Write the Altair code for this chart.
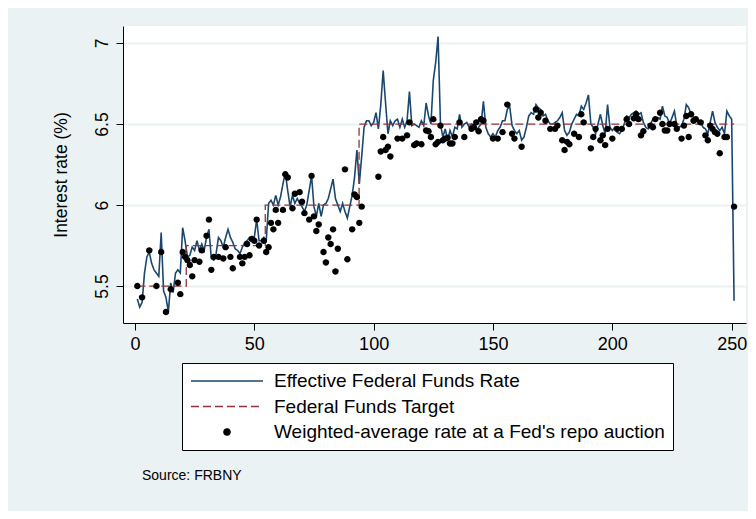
import math
import altair as alt
import pandas as pd

# ---------------- data ----------------
E = "Effective Federal Funds Rate"
T = "Federal Funds Target"
W = "Weighted-average rate at a Fed's repo auction"

eff_days = list(range(1, 252))
eff_vals = [
    5.42, 5.37, 5.40, 5.58, 5.68, 5.71, 5.64, 5.60, 5.58, 5.56,
    5.83, 5.47, 5.43, 5.34, 5.52, 5.46, 5.58, 5.60, 5.58, 5.86,
    5.78, 5.68, 5.69, 5.74, 5.72, 5.78, 5.72, 5.76, 5.72, 5.80,
    5.85, 5.67, 5.66, 5.70, 5.80, 5.78, 5.74, 5.80, 5.85, 5.80,
    5.77, 5.73, 5.72, 5.70, 5.74, 5.77, 5.78, 5.80, 5.79, 5.80,
    5.91, 5.78, 5.78, 5.80, 5.78, 6.01, 6.03, 6.00, 6.06, 6.00,
    6.05, 6.13, 6.20, 6.09, 5.99, 6.06, 6.01, 6.04, 6.01, 5.99,
    5.96, 6.00, 6.09, 6.18, 5.99, 5.93, 6.01, 5.93, 6.00, 6.01,
    6.04, 6.10, 6.16, 6.04, 6.00, 5.96, 6.01, 5.96, 5.92, 5.99,
    6.06, 6.17, 6.34, 6.13, 6.30, 6.48, 6.52, 6.52, 6.49, 6.51,
    6.57, 6.47, 6.62, 6.83, 6.63, 6.44, 6.52, 6.49, 6.52, 6.53,
    6.48, 6.53, 6.48, 6.52, 6.70, 6.49, 6.50, 6.49, 6.48, 6.52,
    6.49, 6.63, 6.55, 6.50, 6.77, 6.88, 7.04, 6.50, 6.42, 6.47,
    6.40, 6.46, 6.42, 6.48, 6.47, 6.56, 6.48, 6.50, 6.51, 6.48,
    6.50, 6.49, 6.46, 6.48, 6.50, 6.64, 6.48, 6.44, 6.42, 6.44,
    6.42, 6.46, 6.48, 6.52, 6.52, 6.59, 6.61, 6.49, 6.46, 6.44,
    6.46, 6.40, 6.42, 6.48, 6.55, 6.57, 6.56, 6.62, 6.60, 6.59,
    6.55, 6.56, 6.52, 6.50, 6.50, 6.51, 6.52, 6.54, 6.57, 6.46,
    6.43, 6.45, 6.50, 6.53, 6.56, 6.55, 6.61, 6.59, 6.63, 6.68,
    6.50, 6.48, 6.44, 6.50, 6.56, 6.49, 6.44, 6.62, 6.48, 6.46,
    6.48, 6.45, 6.44, 6.46, 6.50, 6.55, 6.54, 6.56, 6.57, 6.58,
    6.56, 6.57, 6.51, 6.48, 6.47, 6.50, 6.53, 6.52, 6.54, 6.53,
    6.61, 6.55, 6.54, 6.50, 6.54, 6.58, 6.49, 6.48, 6.49, 6.53,
    6.62, 6.60, 6.56, 6.54, 6.54, 6.50, 6.51, 6.48, 6.47, 6.44,
    6.51, 6.58, 6.51, 6.48, 6.46, 6.48, 6.44, 6.58, 6.55, 6.53,
    5.41,
]

target_days = [1, 21.5, 54.6, 93.9, 251]
target_vals = [5.50, 5.75, 6.00, 6.50, 6.50]

dot_days = [
    1, 3, 6, 9, 11, 13, 15, 18, 19, 20, 21, 22, 23, 24, 25, 27, 28, 30, 31, 32,
    33, 35, 37, 38, 40, 41, 44, 45, 46, 47, 48, 49, 50, 51, 52, 54, 55, 56, 57, 58,
    59, 60, 62, 63, 64, 66, 67, 69, 70, 71, 73, 74, 75, 76, 77, 79, 80, 81, 82, 83,
    84, 85, 88, 89, 91, 92, 93, 94, 95, 102, 103, 104, 105, 106, 107, 110, 112, 114, 115, 117,
    118, 120, 122, 123, 124, 125, 126, 127, 128, 129, 130, 131, 132, 133, 134, 136, 138, 141, 142, 143,
    144, 145, 146, 150, 152, 154, 156, 158, 159, 162, 168, 169, 170, 172, 174, 176, 177, 179, 180, 181,
    182, 184, 186, 187, 188, 191, 192, 193, 195, 196, 197, 198, 200, 202, 204, 206, 207, 209, 210, 211,
    212, 213, 216, 217, 218, 220, 221, 222, 223, 224, 226, 227, 229, 230, 231, 232, 233, 234, 235, 237,
    239, 240, 241, 242, 243, 244, 245, 247, 248, 251,
]
dot_vals = [
    5.50, 5.43, 5.72, 5.50, 5.71, 5.34, 5.48, 5.52, 5.45, 5.71, 5.68, 5.66, 5.63, 5.56, 5.66, 5.65, 5.72, 5.81, 5.91, 5.60,
    5.68, 5.68, 5.67, 5.74, 5.68, 5.61, 5.68, 5.64, 5.68, 5.76, 5.69, 5.79, 5.78, 5.91, 5.75, 5.78, 5.71, 5.74, 5.89, 5.85,
    5.97, 5.89, 5.97, 6.19, 6.17, 5.98, 6.07, 6.08, 6.02, 5.95, 5.91, 6.18, 5.93, 5.84, 5.88, 5.71, 5.645, 5.80, 5.76, 5.85,
    5.59, 5.73, 6.22, 5.665, 5.85, 6.065, 6.05, 5.89, 5.99, 6.175, 6.33, 6.42, 6.34, 6.36, 6.30, 6.41, 6.41, 6.43, 6.51, 6.37,
    6.38, 6.375, 6.46, 6.455, 6.42, 6.53, 6.375, 6.39, 6.49, 6.40, 6.41, 6.415, 6.38, 6.38, 6.42, 6.51, 6.42, 6.47, 6.48, 6.51,
    6.455, 6.53, 6.52, 6.41, 6.41, 6.45, 6.62, 6.44, 6.41, 6.36, 6.59, 6.54, 6.57, 6.52, 6.47, 6.47, 6.49, 6.40, 6.34, 6.39,
    6.375, 6.44, 6.42, 6.56, 6.51, 6.35, 6.42, 6.47, 6.40, 6.43, 6.37, 6.47, 6.41, 6.47, 6.47, 6.53, 6.50, 6.535, 6.56, 6.53,
    6.43, 6.455, 6.49, 6.48, 6.53, 6.57, 6.50, 6.46, 6.46, 6.50, 6.50, 6.47, 6.41, 6.49, 6.55, 6.42, 6.56, 6.52, 6.53, 6.51,
    6.43, 6.40, 6.49, 6.47, 6.45, 6.44, 6.32, 6.42, 6.42, 5.99,
]

x_ticks = [0, 50, 100, 150, 200, 250]
y_ticks = [5.5, 6.0, 6.5, 7.0]

# ---------------- table ----------------
df = pd.concat([
    pd.DataFrame({"day": eff_days, "rate": eff_vals, "series": E}),
    pd.DataFrame({"day": target_days, "rate": target_vals, "series": T}),
    pd.DataFrame({"day": dot_days, "rate": dot_vals, "series": W}),
], ignore_index=True)

NAVY = "#1a476f"
MAROON = "#90353b"
BG = "#eaf2f3"
FONT = "Liberation Sans"
DOMAIN = [E, T, W]

# symbol shapes (unit coordinates, scaled by sqrt(size)/2)
LINE_PATH = "M-1,0L1,0"
r = 0.085
pts = [(r * math.cos(k * math.pi / 8), r * math.sin(k * math.pi / 8)) for k in range(16)]
DOT_PATH = "M" + "L".join(f"{px:.4f},{py:.4f}" for px, py in pts) + "Z"
DOT_SIZE = (2 * 3.2 / r) ** 2  # plot dots ~6.4px wide with this path


def make_legend():
    return alt.Legend(
        orient="none", legendX=59, legendY=337, direction="vertical",
        fillColor="white", strokeColor="black", padding=8,
        labelFont=FONT, labelFontSize=19, labelColor="black", labelLimit=800,
        labelOffset=10, symbolSize=5184, symbolStrokeWidth=1.5,
        symbolOpacity=1, clipHeight=20, rowPadding=5.5,
    )


color = alt.Color(
    "series:N",
    scale=alt.Scale(domain=DOMAIN, range=[NAVY, MAROON, "#000000"]),
    title=None, legend=make_legend(),
)
dash = alt.StrokeDash(
    "series:N",
    scale=alt.Scale(domain=DOMAIN, range=[[1, 0], [8, 4], [1, 0]]),
    title=None, legend=make_legend(),
)
shape = alt.Shape(
    "series:N",
    scale=alt.Scale(domain=DOMAIN, range=[LINE_PATH, LINE_PATH, DOT_PATH]),
    title=None, legend=make_legend(),
)

x = alt.X(
    "day:Q",
    scale=alt.Scale(domain=[-5, 256], nice=False, zero=False),
    axis=alt.Axis(
        values=x_ticks, title=None, grid=False, format="d",
        domainColor="black", domainWidth=1, tickColor="black", tickSize=7, tickWidth=1,
        labelFont=FONT, labelFontSize=18, labelColor="black", labelPadding=5,
    ),
)
y = alt.Y(
    "rate:Q",
    scale=alt.Scale(domain=[5.272, 7.105], nice=False, zero=False),
    axis=alt.Axis(
        values=y_ticks, format="~g", title="Interest rate (%)",
        grid=True, gridColor=BG, gridWidth=2,
        domainColor="black", domainWidth=1, tickColor="black", tickSize=7, tickWidth=1,
        labelFont=FONT, labelFontSize=17.5, labelColor="black",
        labelAngle=270, labelAlign="center", labelBaseline="alphabetic", labelPadding=9,
        titleFont=FONT, titleFontSize=17.5, titleFontWeight="normal", titleColor="black",
        titleAngle=270, titleAlign="center", titleBaseline="alphabetic",
        titleX=-57, titleY=148.5,
    ),
)

base = alt.Chart(df).encode(x=x, y=y, color=color)

eff_line = base.transform_filter(alt.datum.series == E).mark_line(strokeWidth=1.6).encode(strokeDash=dash)
tgt_line = base.transform_filter(alt.datum.series == T).mark_line(
    strokeWidth=1.3, interpolate="step-after"
).encode(strokeDash=dash)
dots = base.transform_filter(alt.datum.series == W).mark_point(
    filled=True, size=DOT_SIZE, opacity=1
).encode(shape=shape)

chart = (
    alt.layer(eff_line, tgt_line, dots)
    .properties(
        width=623, height=297,
        background=BG,
        padding={"left": 115, "right": 2, "top": 18, "bottom": 188},
        autosize=alt.AutoSizeParams(type="none"),
        title=alt.TitleParams(
            "Source: FRBNY", orient="bottom", anchor="start", frame="group",
            font=FONT, fontSize=14, fontWeight="normal", color="black",
            dx=19, offset=18,
        ),
    )
    .configure_view(fill="white", strokeWidth=0)
)

chart.save("out.html", embed_options={"renderer": "svg", "actions": False})
